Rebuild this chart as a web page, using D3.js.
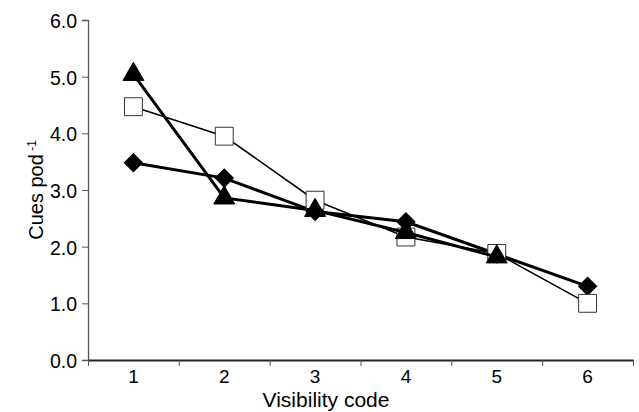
<!DOCTYPE html>
<html>
<head>
<meta charset="utf-8">
<script src="https://cdnjs.cloudflare.com/ajax/libs/d3/7.8.5/d3.min.js"></script>
<style>
  body { margin: 0; background: #fff; }
  svg text { font-family: "Liberation Sans", Arial, sans-serif; fill: #000; }
</style>
</head>
<body>
<svg id="chart" width="639" height="412"></svg>
<script>
var codes = [1, 2, 3, 4, 5, 6];
var diamondVals = [3.48, 3.21, 2.62, 2.44, 1.87, 1.30];
var squareVals = [4.47, 3.95, 2.82, 2.17, 1.88, 1.00];
var triangleVals = [5.04, 2.86, 2.64, 2.25, 1.82];
var yTicks = [0, 1, 2, 3, 4, 5, 6];
var xBounds = [0.5, 1.5, 2.5, 3.5, 4.5, 5.5, 6.5];

function drawChart() {
    var svg = d3.select("#chart");
    svg.selectAll("*").remove();

    var x = d3.scaleLinear().domain([0.5, 6.5]).range([88, 633]),
        y = d3.scaleLinear().domain([0, 6]).range([360, 20]);

    // y axis
    svg.append("g")
        .attr("transform", "translate(88,0)")
        .call(d3.axisLeft(y).tickValues(yTicks).tickSize(6).tickFormat(""))
        .call(function(g) {
            g.select(".domain").attr("stroke", "#555").attr("stroke-width", 1.3);
            g.selectAll(".tick line").attr("stroke", "#555");
        });

    svg.selectAll(".ylab")
        .data(yTicks)
        .enter().append("text")
        .attr("class", "ylab")
        .attr("x", 77)
        .attr("y", function(d) { return y(d) + 8; })
        .attr("text-anchor", "end")
        .style("font-size", "19.5px")
        .text(function(d) { return d.toFixed(1); });

    // x axis
    svg.append("g")
        .attr("transform", "translate(0,360)")
        .call(d3.axisBottom(x).tickValues(xBounds).tickSize(6).tickFormat("").tickSizeOuter(0))
        .call(function(g) {
            g.select(".domain").attr("stroke", "#222").attr("stroke-width", 2);
            g.selectAll(".tick line").attr("stroke", "#555");
        });

    svg.selectAll(".xlab")
        .data(codes)
        .enter().append("text")
        .attr("class", "xlab")
        .attr("x", function(d) { return x(d); })
        .attr("y", 383)
        .attr("text-anchor", "middle")
        .style("font-size", "19px")
        .text(function(d) { return d; });

    // titles
    svg.append("text")
        .attr("x", 326)
        .attr("y", 407)
        .attr("text-anchor", "middle")
        .style("font-size", "21px")
        .text("Visibility code");

    var yt = svg.append("text")
        .attr("transform", "translate(43,190) rotate(-90)")
        .attr("text-anchor", "middle")
        .style("font-size", "20px");
    yt.append("tspan").text("Cues pod");
    yt.append("tspan").attr("dy", "-0.55em").style("font-size", "12px").text(" -1");

    var line = d3.line()
        .x(function(d, i) { return x(codes[i]); })
        .y(function(d) { return y(d); });

    function series(vals, width, sym, size, fill, rot) {
        var g = svg.append("g");
        g.append("path")
            .datum(vals)
            .attr("d", line)
            .attr("fill", "none")
            .attr("stroke", "#000")
            .attr("stroke-width", width);
        g.selectAll(".pt")
            .data(vals)
            .enter().append("path")
            .attr("transform", function(d, i) {
                return "translate(" + x(codes[i]) + "," + y(d) + ") rotate(" + rot + ")";
            })
            .attr("d", d3.symbol().type(sym).size(size))
            .attr("fill", fill)
            .attr("stroke", fill === "#fff" ? "#333" : "#000")
            .attr("stroke-width", 1);
    }

    series(diamondVals, 3, d3.symbolSquare, 165, "#000", 45);
    series(squareVals, 1.6, d3.symbolSquare, 320, "#fff", 0);
    series(triangleVals, 3, d3.symbolTriangle, 190, "#000", 0);
}

drawChart();
</script>
</body>
</html>
